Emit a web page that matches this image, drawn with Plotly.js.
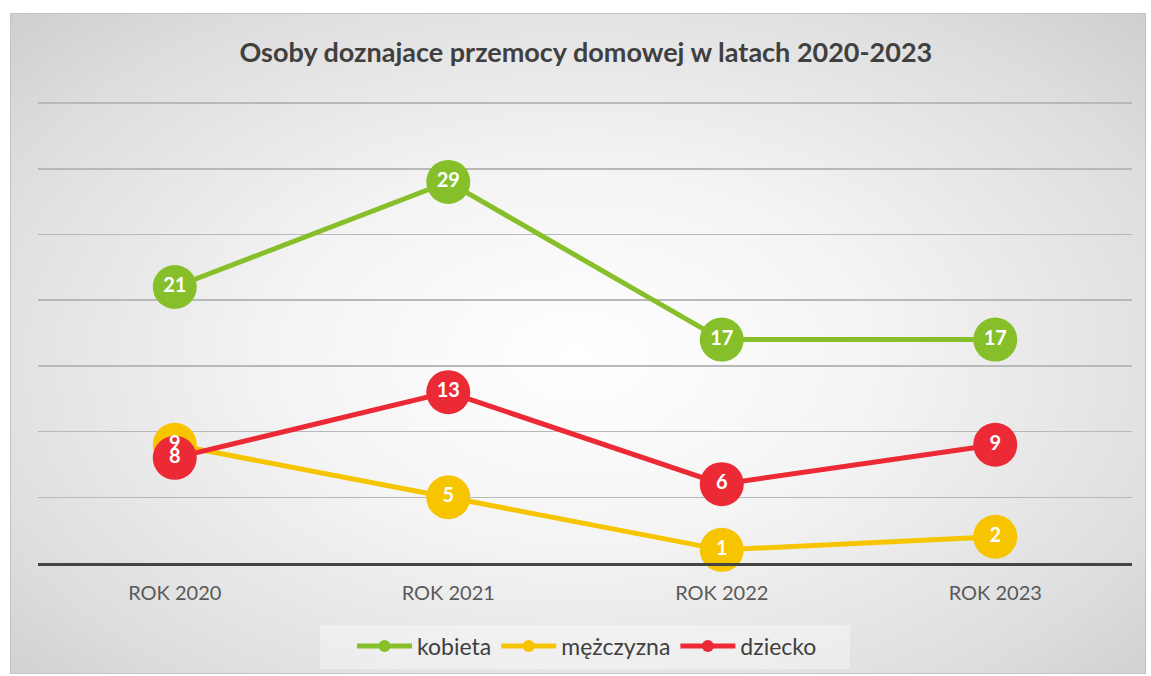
<!DOCTYPE html>
<html>
<head>
<meta charset="utf-8">
<script src="https://cdn.plot.ly/plotly-3.0.1.min.js"></script>
<style>
html,body{margin:0;padding:0;background:#ffffff;}
#wrap{position:relative;width:1151px;height:676px;}
#bg{position:absolute;left:10px;top:13px;width:1136px;height:661px;border:1px solid #c4c4c4;box-sizing:border-box;
background:radial-gradient(ellipse 75% 80% at 50% 52%, #ffffff 0%, #f4f4f4 35%, #dddddd 75%, #c9c9c9 100%);}
#legbg{position:absolute;left:320px;top:625px;width:530px;height:44px;background:rgba(255,255,255,0.35);}
#chart{position:absolute;left:0;top:0;width:1151px;height:676px;}
</style>
</head>
<body>
<div id="wrap"><div id="bg"></div><div id="legbg"></div><div id="chart"></div></div>
<script>
const categories = ["ROK 2020", "ROK 2021", "ROK 2022", "ROK 2023"];
const seriesNames = ["kobieta", "mężczyzna", "dziecko"];
const kobieta = [21, 29, 17, 17];
const mezczyzna = [9, 5, 1, 2];
const dziecko = [8, 13, 6, 9];
const colors = ["#86BF2A", "#F7C400", "#EC2A35"];
const allSeries = [kobieta, mezczyzna, dziecko];

const traces = [];
allSeries.forEach((vals, i) => {
  traces.push({
    x: categories, y: vals, type: "scatter", mode: "lines+markers",
    line: {color: colors[i], width: 5},
    marker: {color: colors[i], size: 44},
    showlegend: false, hoverinfo: "skip", cliponaxis: false
  });
});
allSeries.forEach((vals, i) => {
  traces.push({
    x: categories, y: vals, type: "scatter", mode: "text",
    text: vals.map(String), textposition: "middle center",
    textfont: {family: "Lato, 'Open Sans', sans-serif", size: 20, color: "#ffffff", weight: 700},
    showlegend: false, hoverinfo: "skip", cliponaxis: false
  });
});
allSeries.forEach((vals, i) => {
  traces.push({
    x: [null], y: [null], type: "scatter", mode: "lines+markers",
    name: seriesNames[i],
    line: {color: colors[i], width: 5},
    marker: {color: colors[i], size: 12},
    showlegend: true, hoverinfo: "skip"
  });
});

const layout = {
  width: 1151, height: 676,
  paper_bgcolor: "rgba(0,0,0,0)", plot_bgcolor: "rgba(0,0,0,0)",
  margin: {l: 38, r: 19, t: 102, b: 113},
  title: {
    text: "Osoby doznajace przemocy domowej w latach 2020-2023",
    font: {family: "Lato, 'Open Sans', sans-serif", size: 27, color: "#404040", weight: 700},
    x: 0.509, xanchor: "center", y: 1 - 53/676, yanchor: "middle", yref: "container"
  },
  xaxis: {
    type: "category", range: [-0.5, 3.5],
    showgrid: false, zeroline: false,
    showline: true, linecolor: "#444444", linewidth: 3,
    ticks: "outside", ticklen: 10, tickcolor: "rgba(0,0,0,0)",
    tickfont: {family: "Lato, 'Open Sans', sans-serif", size: 20, color: "#595959"}
  },
  yaxis: {
    range: [0, 35.08], tickvals: [5, 10, 15, 20, 25, 30, 35], showticklabels: false,
    showgrid: true, gridcolor: "#b8b8b8", gridwidth: 1.5,
    zeroline: false, showline: false, ticks: ""
  },
  legend: {
    orientation: "h", x: 0.51, xanchor: "center", xref: "container",
    y: 1 - 646/676, yanchor: "middle", yref: "container",
    bgcolor: "rgba(0,0,0,0)",
    font: {family: "Lato, 'Open Sans', sans-serif", size: 23, color: "#404040"},
    itemwidth: 55, tracegroupgap: 0
  },
  showlegend: true
};

Plotly.newPlot("chart", traces, layout, {displayModeBar: false, staticPlot: true});
</script>
</body>
</html>
